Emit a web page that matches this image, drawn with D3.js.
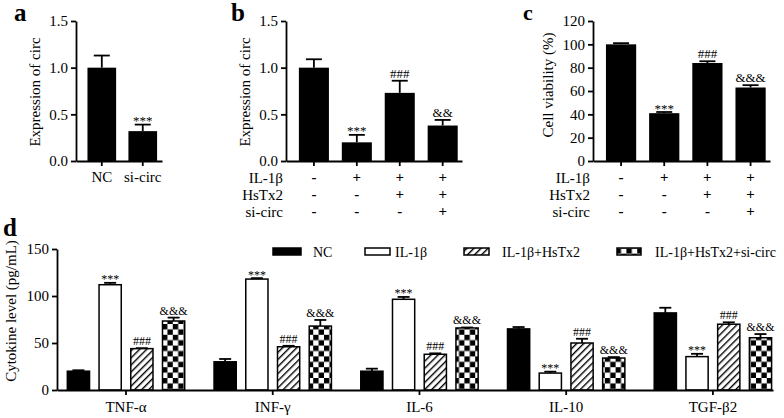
<!DOCTYPE html>
<html><head><meta charset="utf-8">
<script src="https://cdn.jsdelivr.net/npm/d3@7"></script>
<style>
body{margin:0;background:#fff;}
text{font-family:"Liberation Serif","Times New Roman",serif;fill:#000;}
</style>
</head><body><svg id="chart" width="784" height="418"></svg>
<script>
// ---------- Data ----------
const aCategories = ["NC", "si-circ"];
const aValues = [1.0, 0.32];
const aErrTop = [1.13, 0.39];
const aMarks = ["", "***"];
const aTicks = [0, 0.5, 1.0, 1.5];

const bGroups = ["g1", "g2", "g3", "g4"];
const bValues = [1.0, 0.2, 0.73, 0.38];
const bErrTop = [1.09, 0.28, 0.86, 0.44];
const bMarks = ["", "***", "###", "&&"];
const bTicks = [0, 0.5, 1.0, 1.5];

const cValues = [100, 41, 84, 63];
const cErrTop = [101, 42, 85.5, 65];
const cMarks = ["", "***", "###", "&&&"];
const cTicks = [0, 20, 40, 60, 80, 100, 120];

const treatRows = ["IL-1β", "HsTx2", "si-circ"];
const treatSigns = [["-", "+", "+", "+"], ["-", "-", "+", "+"], ["-", "-", "-", "+"]];

const dCategories = ["TNF-α", "INF-γ", "IL-6", "IL-10", "TGF-β2"];
const dSeries = ["NC", "IL-1β", "IL-1β+HsTx2", "IL-1β+HsTx2+si-circ"];
const dNC      = [20, 30, 20, 65, 82];
const dNCErr   = [21, 33, 22.7, 67, 87.5];
const dIL      = [112, 118, 96.5, 18, 35.5];
const dILErr   = [114, 119, 99, 19.5, 38.5];
const dHs      = [44, 46, 38, 50, 70];
const dHsErr   = [44.5, 47, 39, 54.5, 72];
const dSi      = [73.4, 68, 66, 34, 55.6];
const dSiErr   = [77, 74.5, 66.5, 35, 59.5];
const dMarks   = ["", "***", "###", "&&&"];
const dTicks   = [0, 50, 100, 150];

const FS = 15;

// ---------- Setup ----------
const svg = d3.select("#chart");
const defs = svg.append("defs");
const hatch = defs.append("pattern").attr("id", "hatch").attr("patternUnits", "userSpaceOnUse")
  .attr("width", 5).attr("height", 5).attr("patternTransform", "rotate(45)");
hatch.append("rect").attr("width", 5).attr("height", 5).attr("fill", "#fff");
hatch.append("line").attr("x1", 0).attr("y1", 0).attr("x2", 0).attr("y2", 5)
  .attr("stroke", "#000").attr("stroke-width", 2.8);
const chk = defs.append("pattern").attr("id", "checker").attr("patternUnits", "userSpaceOnUse")
  .attr("width", 10.8).attr("height", 10.8);
chk.append("rect").attr("width", 10.8).attr("height", 10.8).attr("fill", "#fff");
chk.append("rect").attr("width", 5.4).attr("height", 5.4).attr("fill", "#000");
chk.append("rect").attr("x", 5.4).attr("y", 5.4).attr("width", 5.4).attr("height", 5.4).attr("fill", "#000");

const fills = ["#000", "#fff", "url(#hatch)", "url(#checker)"];

function styleAxis(g, fs) {
  g.selectAll("path,line").attr("stroke", "#000").attr("stroke-width", 1.8);
  g.selectAll("text").style("font-family", '"Liberation Serif","Times New Roman",serif')
    .style("font-size", fs + "px").attr("fill", "#000");
}

function errorBar(g, cx, yTop, yVal, cap) {
  g.append("line").attr("x1", cx).attr("x2", cx).attr("y1", yTop).attr("y2", yVal)
    .attr("stroke", "#000").attr("stroke-width", 1.8);
  g.append("line").attr("x1", cx - cap / 2).attr("x2", cx + cap / 2).attr("y1", yTop).attr("y2", yTop)
    .attr("stroke", "#000").attr("stroke-width", 1.8);
}

function mark(g, cx, yTop, txt, fs) {
  if (!txt) return;
  g.append("text").attr("x", cx).attr("y", txt.startsWith("*") ? yTop + 0.5 : yTop - 3)
    .attr("text-anchor", "middle").style("font-size", fs + "px").attr("fill", "#000").text(txt);
}

function panelLetter(x, y, t, fs) {
  svg.append("text").attr("x", x).attr("y", y).style("font-size", (fs || 25) + "px")
    .style("font-weight", "bold").text(t);
}

function yTitle(x, y, t) {
  svg.append("text").attr("transform", `translate(${x},${y}) rotate(-90)`)
    .attr("text-anchor", "middle").style("font-size", FS + "px").text(t);
}

// ---------- Panel a ----------
(function () {
  const y = d3.scaleLinear().domain([0, 1.5]).range([161, 21]);
  const x = d3.scaleBand().domain(aCategories).range([76, 162]).paddingInner(0.3).paddingOuter(0.2).align(0.7);
  const g = svg.append("g");
  aCategories.forEach((c, i) => {
    const cx = x(c) + x.bandwidth() / 2;
    errorBar(g, cx, y(aErrTop[i]), y(aValues[i]), 16);
    g.append("rect").attr("x", x(c)).attr("y", y(aValues[i])).attr("width", x.bandwidth())
      .attr("height", y(0) - y(aValues[i])).attr("fill", "#000");
    mark(g, cx, y(aErrTop[i]), aMarks[i], 13);
  });
  const ya = svg.append("g").attr("transform", "translate(76,0)")
    .call(d3.axisLeft(y).tickValues(aTicks).tickFormat(d3.format(".1f")).tickSize(5).tickSizeOuter(0));
  styleAxis(ya, FS);
  const xa = svg.append("g").attr("transform", "translate(0,161)")
    .call(d3.axisBottom(x).tickSize(5).tickSizeOuter(0).tickPadding(5));
  styleAxis(xa, FS);
  yTitle(40, 92, "Expression of circ");
  panelLetter(14, 21, "a");
})();

// ---------- Panels b & c ----------
function treatPanel(ax, axEnd, domainMax, ticks, fmt, values, errTop, marks, title, titleX, titleY, letter, letterX, letterY, letterFs) {
  const y = d3.scaleLinear().domain([0, domainMax]).range([161, 21]);
  const x = d3.scaleBand().domain(bGroups).range([ax, axEnd]).paddingInner(0.3).paddingOuter(0.2).align(0.75);
  const g = svg.append("g");
  bGroups.forEach((c, i) => {
    const cx = x(c) + x.bandwidth() / 2;
    errorBar(g, cx, y(errTop[i]), y(values[i]), 16);
    g.append("rect").attr("x", x(c)).attr("y", y(values[i])).attr("width", x.bandwidth())
      .attr("height", y(0) - y(values[i])).attr("fill", "#000");
    mark(g, cx, y(errTop[i]), marks[i], 13);
  });
  const ya = svg.append("g").attr("transform", `translate(${ax},0)`)
    .call(d3.axisLeft(y).tickValues(ticks).tickFormat(fmt).tickSize(5).tickSizeOuter(0));
  styleAxis(ya, FS);
  const xa = svg.append("g").attr("transform", "translate(0,161)")
    .call(d3.axisBottom(x).tickSize(5).tickSizeOuter(0).tickFormat(""));
  styleAxis(xa, FS);
  const rowY = [183, 200, 217];
  treatRows.forEach((r, j) => {
    svg.append("text").attr("x", ax - 3).attr("y", rowY[j]).attr("text-anchor", "end")
      .style("font-size", FS + "px").text(r);
    bGroups.forEach((c, i) => {
      svg.append("text").attr("x", x(c) + x.bandwidth() / 2).attr("y", rowY[j] - 1)
        .attr("text-anchor", "middle").style("font-size", FS + "px").style("font-weight", "bold")
        .text(treatSigns[j][i]);
    });
  });
  yTitle(titleX, titleY, title);
  panelLetter(letterX, letterY, letter, letterFs);
}
treatPanel(286, 462, 1.5, bTicks, d3.format(".1f"), bValues, bErrTop, bMarks, "Expression of circ", 250, 92, "b", 231, 21, 25);
treatPanel(593, 770, 120, cTicks, d3.format("d"), cValues, cErrTop, cMarks, "Cell viability (%)", 553, 85, "c", 523, 20, 22);

// ---------- Panel d ----------
(function () {
  const y = d3.scaleLinear().domain([0, 150]).range([390, 249]);
  const x0 = d3.scaleBand().domain(dCategories).range([57, 773]).paddingInner(0.2).paddingOuter(0.04).align(0.88);
  const x1 = d3.scaleBand().domain(dSeries).range([0, x0.bandwidth()]).paddingInner(0.3).paddingOuter(0);
  const vals = [dNC, dIL, dHs, dSi];
  const errs = [dNCErr, dILErr, dHsErr, dSiErr];
  const g = svg.append("g");
  dCategories.forEach((cat, ci) => {
    dSeries.forEach((s, si) => {
      const bx = x0(cat) + x1(s);
      const cx = bx + x1.bandwidth() / 2;
      const v = vals[si][ci], e = errs[si][ci];
      errorBar(g, cx, y(e), y(v), 12);
      g.append("rect").attr("x", bx).attr("y", y(v)).attr("width", x1.bandwidth())
        .attr("height", y(0) - y(v)).attr("fill", fills[si])
        .attr("stroke", "#000").attr("stroke-width", 1.5);
      mark(g, cx, y(e), dMarks[si], 12);
    });
  });
  const ya = svg.append("g").attr("transform", "translate(57,0)")
    .call(d3.axisLeft(y).tickValues(dTicks).tickSize(5).tickSizeOuter(0));
  styleAxis(ya, FS);
  const xa = svg.append("g").attr("transform", "translate(0,390)")
    .call(d3.axisBottom(x0).tickSize(5).tickSizeOuter(0).tickPadding(6));
  styleAxis(xa, FS);
  yTitle(16, 311, "Cytokine level (pg/mL)");
  panelLetter(3, 236, "d");

  // legend
  const legX = [273, 365, 464, 617];
  const legTX = [313, 395, 502, 655];
  const legW = [28, 25, 25, 24];
  dSeries.forEach((s, i) => {
    svg.append("rect").attr("x", legX[i]).attr("y", 248).attr("width", legW[i]).attr("height", 7)
      .attr("fill", fills[i]).attr("stroke", "#000").attr("stroke-width", 1.5);
    svg.append("text").attr("x", legTX[i]).attr("y", 257).style("font-size", "14px").text(s);
  });
})();
</script>
</body></html>
